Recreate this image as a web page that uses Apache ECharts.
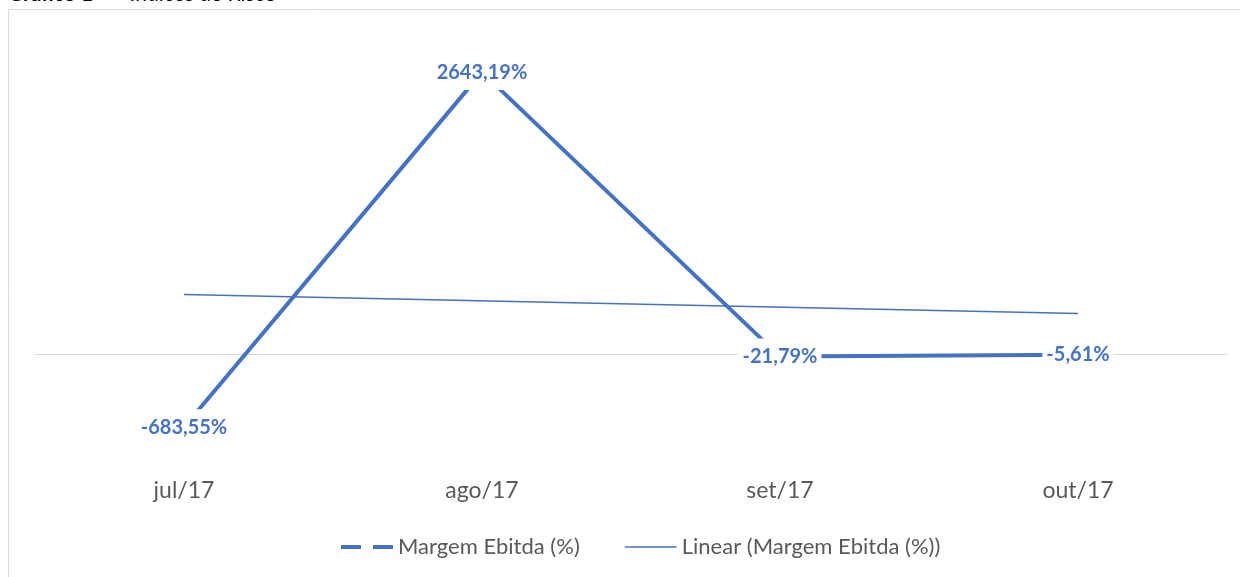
<!DOCTYPE html>
<html>
<head>
<meta charset="utf-8">
<script src="https://cdn.jsdelivr.net/npm/echarts@6/dist/echarts.min.js"></script>
<style>
    html, body { margin: 0; padding: 0; background: #fff; }
    #chart { width: 1240px; height: 577px; }
</style>
</head>
<body>
<div id="chart"></div>
<script>
    // dados
    var meses = ['jul/17', 'ago/17', 'set/17', 'out/17'];
    var margemEbitda = [-683.55, 2643.19, -21.79, -5.61];
    // linha de tendência (só as pontas)
    var tendencia = [560, null, null, 381];
    var yTicks = [-1000, 0, 1000, 2000, 3000];

    var azul = '#4472C4';
    var cinza = '#595959';

    var chart = echarts.init(document.getElementById('chart'));
    var option = {
        animation: false,
        textStyle: {fontFamily: 'Lato'},
        graphic: [
            {
                type: 'rect',
                shape: {x: 8.5, y: 9.5, width: 1300, height: 700},
                style: {fill: 'none', stroke: '#d9d9d9', lineWidth: 1},
                silent: true
            },
            {
                type: 'text',
                x: 8,
                y: 5,
                silent: true,
                style: {
                    text: 'Gráfico 1',
                    font: 'bold 21px Lato',
                    fill: '#000',
                    verticalAlign: 'bottom'
                }
            },
            {
                type: 'text',
                x: 112,
                y: 5,
                silent: true,
                style: {
                    text: '– Índices de Risco',
                    font: '21px Lato',
                    fill: '#000',
                    verticalAlign: 'bottom'
                }
            }
        ],
        grid: {left: 35, right: 13, top: 34, bottom: 116},
        legend: {
            bottom: 14,
            left: 336,
            itemGap: 45,
            itemWidth: 52,
            itemHeight: 4,
            textStyle: {color: cinza, fontSize: 22, fontFamily: 'Lato'},
            data: [
                {name: 'Margem Ebitda (%)', icon: 'path://M0,0H20V4H0ZM32,0H52V4H32Z'},
                {name: 'Linear (Margem Ebitda (%))', icon: 'path://M0,1.5H45V3H0Z'}
            ]
        },
        xAxis: [
            {
                type: 'category',
                data: meses,
                boundaryGap: true,
                axisLine: {show: false, onZero: false},
                axisTick: {show: false},
                axisLabel: {color: cinza, fontSize: 23, margin: 18}
            },
            {
                type: 'category',
                data: meses,
                position: 'bottom',
                boundaryGap: true,
                axisLine: {show: true, onZero: true, lineStyle: {color: '#d9d9d9', width: 1}},
                axisTick: {show: false},
                axisLabel: {show: false}
            }
        ],
        yAxis: {
            type: 'value',
            min: yTicks[0],
            max: yTicks[yTicks.length - 1],
            interval: 1000,
            show: false,
            splitLine: {show: false}
        },
        series: [
            {
                name: 'Linear (Margem Ebitda (%))',
                type: 'line',
                data: tendencia,
                connectNulls: true,
                symbol: 'none',
                lineStyle: {color: azul, width: 1.5},
                itemStyle: {color: azul},
                z: 2
            },
            {
                name: 'Margem Ebitda (%)',
                type: 'line',
                data: margemEbitda,
                symbol: 'circle',
                symbolSize: 1,
                lineStyle: {color: azul, width: 4},
                itemStyle: {color: azul},
                label: {
                    show: true,
                    position: 'inside',
                    color: azul,
                    fontWeight: 'bold',
                    fontSize: 20,
                    fontFamily: 'Lato',
                    backgroundColor: '#fff',
                    padding: [8, 4],
                    formatter: function (p) {
                        return p.value.toFixed(2).replace('.', ',') + '%';
                    }
                },
                z: 3
            }
        ]
    };
    chart.setOption(option);
</script>
</body>
</html>
